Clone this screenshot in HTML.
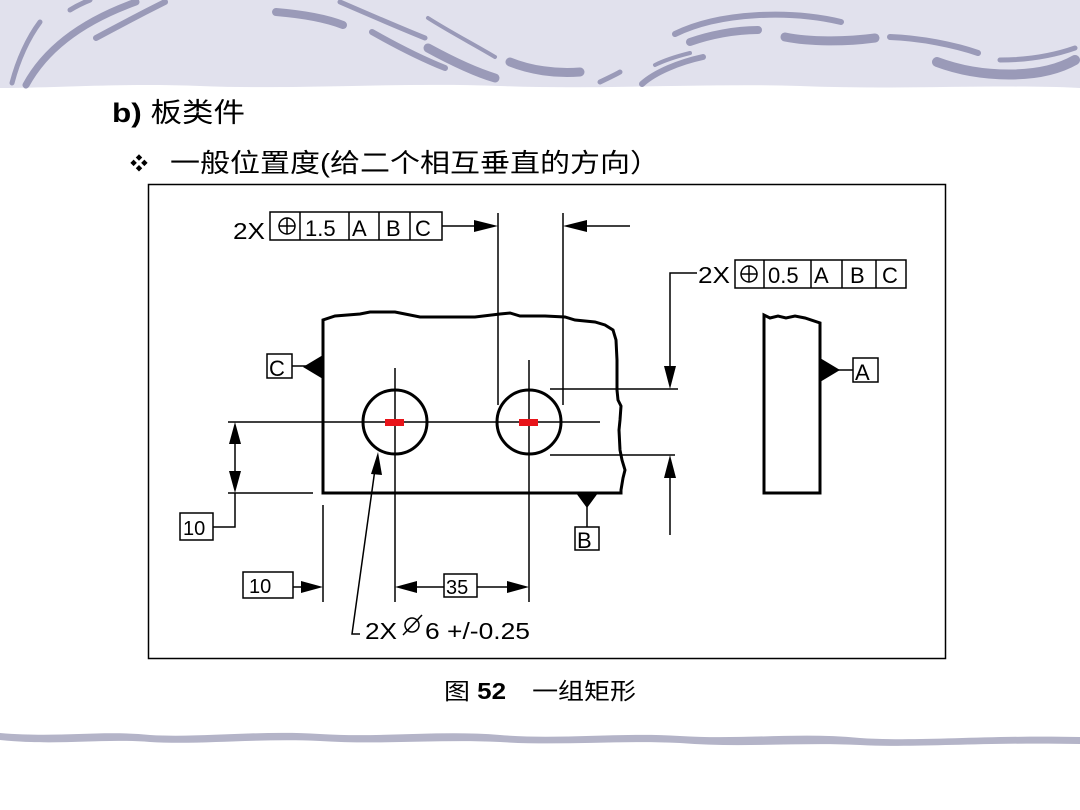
<!DOCTYPE html>
<html><head><meta charset="utf-8"><style>
html,body{margin:0;padding:0;background:#fff;}
svg{display:block;}
</style></head><body>
<svg width="1080" height="810" viewBox="0 0 1080 810" xmlns="http://www.w3.org/2000/svg">
<path d="M0 0H1080V88C1000 84 900 90 800 86C700 83 600 90 500 86C400 82 300 90 200 86C120 83 60 88 0 88Z" fill="#e1e1ed"/>
<g fill="none" stroke="#9a9ab8" stroke-linecap="round">
<path d="M12 83C18 60 28 38 40 22" stroke-width="5"/>
<path d="M26 85C45 50 80 22 136 2" stroke-width="7"/>
<path d="M96 38C120 25 145 12 165 2" stroke-width="6"/>
<path d="M70 10C78 5 85 2 90 0" stroke-width="5"/>
<path d="M276 12C300 14 325 18 343 25" stroke-width="8"/>
<path d="M340 2C370 15 400 28 425 38" stroke-width="5"/>
<path d="M372 32C395 45 420 58 445 68" stroke-width="6"/>
<path d="M428 48C450 60 475 72 495 78" stroke-width="9"/>
<path d="M428 18C450 32 475 45 495 57" stroke-width="4"/>
<path d="M510 62C530 70 555 74 580 72" stroke-width="9"/>
<path d="M600 82C608 78 615 75 620 72" stroke-width="5"/>
<path d="M642 84C655 72 680 62 703 57" stroke-width="6"/>
<path d="M655 65C665 60 678 56 690 53" stroke-width="4"/>
<path d="M675 34C720 12 790 10 841 22" stroke-width="6"/>
<path d="M690 42C710 35 735 30 758 30" stroke-width="8"/>
<path d="M785 37C810 42 845 42 875 38" stroke-width="9"/>
<path d="M890 37C920 38 955 45 978 53" stroke-width="6"/>
<path d="M937 62C980 78 1040 80 1075 60" stroke-width="10"/>
<path d="M1000 60C1030 60 1055 55 1075 48" stroke-width="5"/>
</g>
<path d="M0 733C60 738 100 730 150 735C200 738 260 730 320 734C380 738 440 730 500 735C560 740 620 732 680 736C740 740 800 732 860 738C920 742 980 735 1080 737V744C980 742 920 748 860 745C800 742 740 748 680 743C620 740 560 746 500 742C440 739 380 745 320 741C260 738 200 745 150 742C100 738 60 746 0 740Z" fill="#b4b4c8"/>

<g font-family="'Liberation Sans','Noto Sans CJK SC',sans-serif" fill="#000">
<text x="112" y="122" font-size="27" textLength="133" lengthAdjust="spacingAndGlyphs"><tspan font-weight="bold">b)</tspan> 板类件</text>
<text x="130" y="170" font-size="18">❖</text>
<text x="170" y="172" font-size="26" textLength="490" lengthAdjust="spacingAndGlyphs">一般位置度(给二个相互垂直的方向）</text>
<text x="444" y="699" font-size="23" textLength="192" lengthAdjust="spacingAndGlyphs">图 <tspan font-weight="bold">52</tspan>　一组矩形</text>
</g>

<rect x="148.5" y="184.5" width="797" height="474" fill="none" stroke="#000" stroke-width="1.5"/>

<g stroke="#000" fill="none" stroke-width="1.5">
<path d="M323 493V320L335 316L360 314L370 312L395 312L405 314L420 317L448 317L475 317L500 314L510 313L520 316L545 316L565 317L575 320L595 322L605 325L613 330L616 340L617 360L617 390L618 400L621 406L620 420L619 430L620 450L622 460L625 470L623 478L621 490L621 493H323Z" stroke-width="3"/>
<circle cx="395" cy="422" r="32" stroke-width="3"/>
<circle cx="529" cy="422" r="32" stroke-width="3"/>
<line x1="228" y1="422" x2="600" y2="422"/>
<line x1="395" y1="368" x2="395" y2="602"/>
<line x1="529" y1="360" x2="529" y2="602"/>
<rect x="270" y="212" width="172" height="28"/>
<line x1="300" y1="212" x2="300" y2="240"/>
<line x1="349" y1="212" x2="349" y2="240"/>
<line x1="379" y1="212" x2="379" y2="240"/>
<line x1="410" y1="212" x2="410" y2="240"/>
<circle cx="287" cy="226" r="8"/>
<line x1="279" y1="226" x2="295" y2="226"/><line x1="287" y1="218" x2="287" y2="234"/>
<line x1="442" y1="226" x2="490" y2="226"/>
<line x1="498" y1="213" x2="498" y2="405"/>
<line x1="563" y1="213" x2="563" y2="405"/>
<line x1="570" y1="226" x2="630" y2="226"/>
<line x1="550" y1="389" x2="678" y2="389"/>
<line x1="550" y1="455" x2="675" y2="455"/>
<path d="M697 273H670V380"/>
<line x1="670" y1="465" x2="670" y2="535"/>
<rect x="735" y="260" width="171" height="28"/>
<line x1="764" y1="260" x2="764" y2="288"/>
<line x1="811" y1="260" x2="811" y2="288"/>
<line x1="842" y1="260" x2="842" y2="288"/>
<line x1="876" y1="260" x2="876" y2="288"/>
<circle cx="749" cy="274" r="8"/>
<line x1="741" y1="274" x2="757" y2="274"/><line x1="749" y1="266" x2="749" y2="282"/>
<path d="M764 493V315L770 318L778 316L786 318L795 316L805 318L820 323V493Z" stroke-width="3"/>
<line x1="835" y1="370" x2="853" y2="370"/>
<rect x="853" y="358" width="25" height="24"/>
<rect x="267" y="354" width="25" height="24"/>
<line x1="292" y1="366" x2="307" y2="366"/>
<line x1="587" y1="505" x2="587" y2="527"/>
<rect x="575" y="527" width="24" height="23"/>
<line x1="228" y1="493" x2="313" y2="493"/>
<line x1="235" y1="432" x2="235" y2="483"/>
<path d="M213 527H235V493"/>
<rect x="180" y="513" width="33" height="27"/>
<line x1="323" y1="505" x2="323" y2="602"/>
<rect x="243" y="572" width="50" height="26"/>
<line x1="293" y1="587" x2="312" y2="587"/>
<line x1="405" y1="587" x2="444" y2="587"/>
<line x1="477" y1="587" x2="518" y2="587"/>
<rect x="444" y="574" width="33" height="23"/>
<path d="M376 462L352 634H360"/>
<circle cx="412" cy="625" r="7"/>
<line x1="403" y1="635" x2="422" y2="615"/>
</g>
<g fill="#000">
<polygon points="498,226 474,220 474,232"/>
<polygon points="563,226 587,220 587,232"/>
<polygon points="670,389 664,366 676,366"/>
<polygon points="670,455 664,478 676,478"/>
<polygon points="235,422 229,444 241,444"/>
<polygon points="235,493 229,471 241,471"/>
<polygon points="323,587 301,581 301,593"/>
<polygon points="395,587 417,581 417,593"/>
<polygon points="529,587 507,581 507,593"/>
<polygon points="378,452 371,474 382,475"/>
<polygon points="820,358 820,382 840,370"/>
<polygon points="323,355 323,379 303,367"/>
<polygon points="576,493 598,493 587,508"/>
</g>
<g fill="#e8141a">
<rect x="385" y="419" width="19" height="7"/>
<rect x="519" y="419" width="19" height="7"/>
</g>
<g font-family="'Liberation Sans',sans-serif" font-size="23" fill="#000">
<text x="233" y="239" textLength="32" lengthAdjust="spacingAndGlyphs">2X</text>
<text x="305" y="236" font-size="22">1.5</text>
<text x="352" y="236" font-size="22">A</text>
<text x="386" y="236" font-size="22">B</text>
<text x="415" y="236" font-size="22">C</text>
<text x="698" y="283" textLength="32" lengthAdjust="spacingAndGlyphs">2X</text>
<text x="768" y="283" font-size="22">0.5</text>
<text x="814" y="283" font-size="22">A</text>
<text x="850" y="283" font-size="22">B</text>
<text x="882" y="283" font-size="22">C</text>
<text x="855" y="380" font-size="22">A</text>
<text x="269" y="376" font-size="22">C</text>
<text x="577" y="548" font-size="22">B</text>
<text x="183" y="535" font-size="20">10</text>
<text x="249" y="593" font-size="20">10</text>
<text x="446" y="594" font-size="20">35</text>
<text x="365" y="639" textLength="32" lengthAdjust="spacingAndGlyphs">2X</text>
<text x="425" y="639" textLength="105" lengthAdjust="spacingAndGlyphs">6 +/-0.25</text>
</g>
</svg>
</body></html>
